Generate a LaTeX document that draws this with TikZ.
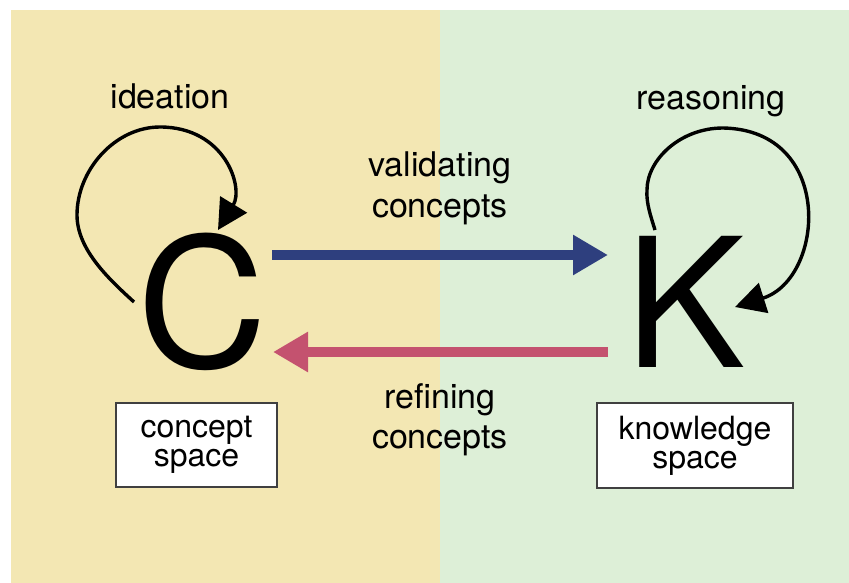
\documentclass[tikz,border=0pt]{standalone}
\usepackage{fontspec}
\setmainfont{TeX Gyre Heros}
\usetikzlibrary{arrows.meta}
\definecolor{bgyellow}{HTML}{F3E7B3}
\definecolor{bggreen}{HTML}{DDEFD7}
\definecolor{flowblue}{HTML}{2E3F7E}
\definecolor{flowpink}{HTML}{C4526F}
\begin{document}
\begin{tikzpicture}[x=1pt,y=-1pt,
  label/.style={font=\fontsize{34}{40}\selectfont, align=center, inner sep=0pt},
  bigletter/.style={font=\fontsize{180}{180}\selectfont, inner sep=0pt, anchor=base},
  spacebox/.style={draw=black!75, line width=1.3pt, fill=white,
    font=\fontsize{32}{29}\selectfont, align=center, inner sep=0pt},
  selfloop/.style={line width=3.4pt, -{Triangle[length=30pt,width=31pt]}},
  flow/.style={line width=9.5pt, -{Triangle[length=35pt,width=38pt]}}]
\useasboundingbox (0,0) rectangle (849,583);
% backgrounds of the two spaces
\fill[white] (0,0) rectangle (849,583);
\fill[bgyellow] (11,10) rectangle (440,583);
\fill[bggreen] (440,10) rectangle (849,583);

% the two spaces
\node[bigletter] (C) at (202.5,367) {C};
\node[bigletter] (K) at (686,367) {K};

\node[spacebox, minimum width=161pt, minimum height=84pt] (cbox) at (196.5,445) {concept\\space};
\node[spacebox, minimum width=196pt, minimum height=85pt] (kbox) at (695,445.5) {knowledge\\space};

% loop labels
\node[label, anchor=base] (ideation) at (170,109) {ideation};
\node[label, anchor=base] (reasoning) at (711,110) {reasoning};

% ideation loop on C
\coordinate (cs) at (134,302);
\coordinate (cleft) at (77,215);
\coordinate (ctop) at (160,127);
\coordinate (ce) at (218,230);
\draw[selfloop] (cs) .. controls (110,280) and (77,250) .. (cleft)
  .. controls (77,170) and (115,127) .. (ctop)
  .. controls (225,127) and (244,187.5) .. (ce);

% reasoning loop on K
\coordinate (ks) at (655,230);
\coordinate (kleft) at (647,190);
\coordinate (ktop) at (723,128);
\coordinate (ke) at (735,307);
\draw[selfloop] (ks) .. controls (651,217) and (646,203) .. (kleft)
  .. controls (647,160) and (680,128) .. (ktop)
  .. controls (835,130) and (825,278.5) .. (ke);

% flows between the spaces
\coordinate (vA) at (272,255);
\coordinate (vB) at (608,255);
\coordinate (rA) at (608,352);
\coordinate (rB) at (273,352);
\draw[flow, flowblue] (vA) -- (vB);
\draw[flow, flowpink] (rA) -- (rB);

% flow labels (anchored at the baseline of their second line)
\node[label, anchor=base] (vlab) at (440,217) {validating\\concepts};
\node[label, anchor=base] (rlab) at (440,448) {refining\\concepts};
\end{tikzpicture}
\end{document}
